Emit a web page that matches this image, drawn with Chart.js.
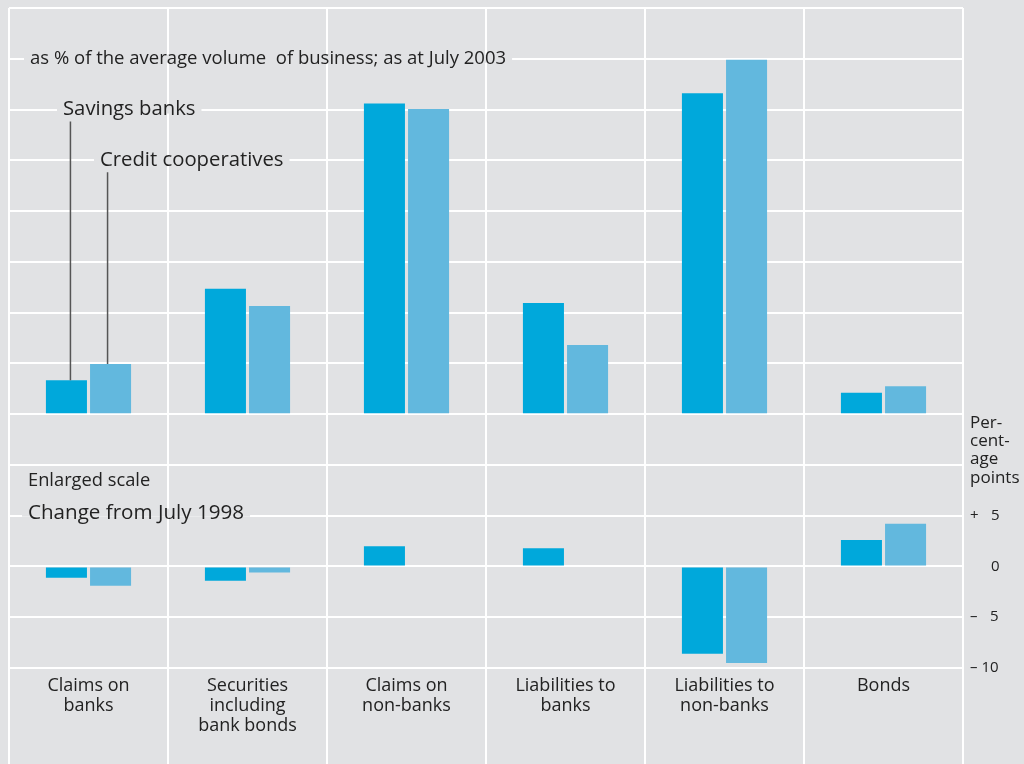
<!DOCTYPE html>
<html>
<head>
<meta charset="utf-8">
<script src="https://cdn.jsdelivr.net/npm/chart.js@4.4.0/dist/chart.umd.min.js"></script>
<style>
  html, body { margin: 0; padding: 0; background: #e1e2e4; }
  canvas { display: block; }
</style>
</head>
<body>
<canvas id="bankChart" width="1024" height="764"></canvas>
<script>
// categories (multi-line labels)
const categories = [
  ['Claims on', 'banks'],
  ['Securities', 'including', 'bank bonds'],
  ['Claims on', 'non-banks'],
  ['Liabilities to', 'banks'],
  ['Liabilities to', 'non-banks'],
  ['Bonds']
];

// upper panel: as % of the average volume of business, July 2003
const savingsLevel = [6.7, 24.7, 61.2, 21.9, 63.2, 4.2];
const coopLevel = [9.9, 21.3, 60.1, 13.6, 69.8, 5.5];

// lower panel: change from July 1998, percentage points
const savingsChange = [-1.1, -1.4, 2.0, 1.8, -8.6, 2.6];
const coopChange = [-1.9, -0.6, -0.1, 0, -9.5, 4.2];

const changeTicks = [-10, -5, 0, 5];

const BG = '#e1e2e4';
const SAVINGS = '#00a8db';
const COOP = '#62b8de';
const TEXT = '#222222';
const FONT = '"Open Sans", "DejaVu Sans", sans-serif';

function fmtChange(v) {
  if (!changeTicks.includes(v)) return '';
  if (v > 0) return '+ \u2007' + v;
  if (v < 0) return '\u2013 ' + (Math.abs(v) < 10 ? '\u2007' : '') + Math.abs(v);
  return '\u2007 \u2007' + v;
}

// text notes and leader lines
const notesPlugin = {
  id: 'notes',
  afterDatasetsDraw(chart) {
    const { ctx, chartArea, scales } = chart;
    const left = chartArea.left;

    function note(text, x, y, size, bg) {
      ctx.save();
      ctx.font = size + 'px ' + FONT;
      ctx.textBaseline = 'middle';
      const w = ctx.measureText(text).width;
      if (bg) {
        ctx.fillStyle = BG;
        ctx.fillRect(x - 6, y - 4, w + 12, 8);
      }
      ctx.fillStyle = TEXT;
      ctx.fillText(text, x, y);
      ctx.restore();
    }

    // leader lines from legend text to first pair of bars
    const sBar = chart.getDatasetMeta(0).data[0];
    const cBar = chart.getDatasetMeta(1).data[0];
    const ySav = scales.y.getPixelForValue(60);
    const yCoop = scales.y.getPixelForValue(50);
    ctx.save();
    ctx.strokeStyle = '#555555';
    ctx.lineWidth = 1.5;
    ctx.beginPath();
    ctx.moveTo(sBar.x + 4, ySav + 12);
    ctx.lineTo(sBar.x + 4, sBar.y);
    ctx.moveTo(cBar.x - 3, yCoop + 12);
    ctx.lineTo(cBar.x - 3, cBar.y);
    ctx.stroke();
    ctx.restore();

    note('as % of the average volume  of business; as at July 2003', left + 21, scales.y.getPixelForValue(70), 18.5, true);
    note('Savings banks', left + 54, ySav, 20.3, true);
    note('Credit cooperatives', left + 91, yCoop, 20.3, true);

    note('Enlarged scale', left + 19, scales.y2.getPixelForValue(10) + 16, 18.3, false);
    note('Change from July 1998', left + 19, scales.y2.getPixelForValue(5) - 3, 20.6, true);

    const unit = ['Per-', 'cent-', 'age', 'points'];
    unit.forEach((t, i) => {
      note(t, chartArea.right + 7, scales.y2.getPixelForValue(10) - 42 + i * 18.3, 17, false);
    });
  }
};

const ctx = document.getElementById('bankChart');

new Chart(ctx, {
  type: 'bar',
  data: {
    labels: categories,
    datasets: [
      { label: 'Savings banks', data: savingsLevel, yAxisID: 'y', stack: 's', backgroundColor: SAVINGS },
      { label: 'Credit cooperatives', data: coopLevel, yAxisID: 'y', stack: 'c', backgroundColor: COOP },
      { label: 'Savings banks change', data: savingsChange, yAxisID: 'y2', stack: 's', backgroundColor: SAVINGS },
      { label: 'Credit cooperatives change', data: coopChange, yAxisID: 'y2', stack: 'c', backgroundColor: COOP }
    ]
  },
  options: {
    responsive: false,
    animation: false,
    categoryPercentage: 0.555,
    barPercentage: 0.93,
    layout: { padding: { left: 9, top: 8, right: 0, bottom: 0 } },
    plugins: {
      legend: { display: false },
      tooltip: { enabled: false }
    },
    scales: {
      x: {
        grid: { color: '#ffffff', lineWidth: 2, drawTicks: true, tickLength: 96, tickColor: '#ffffff', tickWidth: 2 },
        border: { display: false },
        ticks: { color: TEXT, font: { family: FONT, size: 18, lineHeight: 1.11 }, padding: -88, maxRotation: 0, autoSkip: false },
        afterFit(scale) { scale.height = 96; }
      },
      y: {
        position: 'right',
        stack: 'panels',
        stackWeight: 9,
        stacked: false,
        min: -10,
        max: 80,
        ticks: { display: false, stepSize: 10 },
        grid: { color: '#ffffff', lineWidth: 2, drawTicks: false },
        border: { display: false },
        afterFit(scale) { scale.width = 61; scale.paddingTop = 0; scale.paddingBottom = 0; }
      },
      y2: {
        position: 'right',
        stack: 'panels',
        stackWeight: 4,
        stacked: false,
        min: -10,
        max: 10,
        ticks: {
          stepSize: 5,
          color: TEXT,
          padding: 7,
          font: { family: FONT, size: 15 },
          callback: (v) => fmtChange(v)
        },
        grid: { color: '#ffffff', lineWidth: 2, drawTicks: false },
        border: { display: false },
        afterFit(scale) { scale.width = 61; scale.paddingTop = 0; scale.paddingBottom = 0; }
      }
    }
  },
  plugins: [notesPlugin]
});
</script>
</body>
</html>
